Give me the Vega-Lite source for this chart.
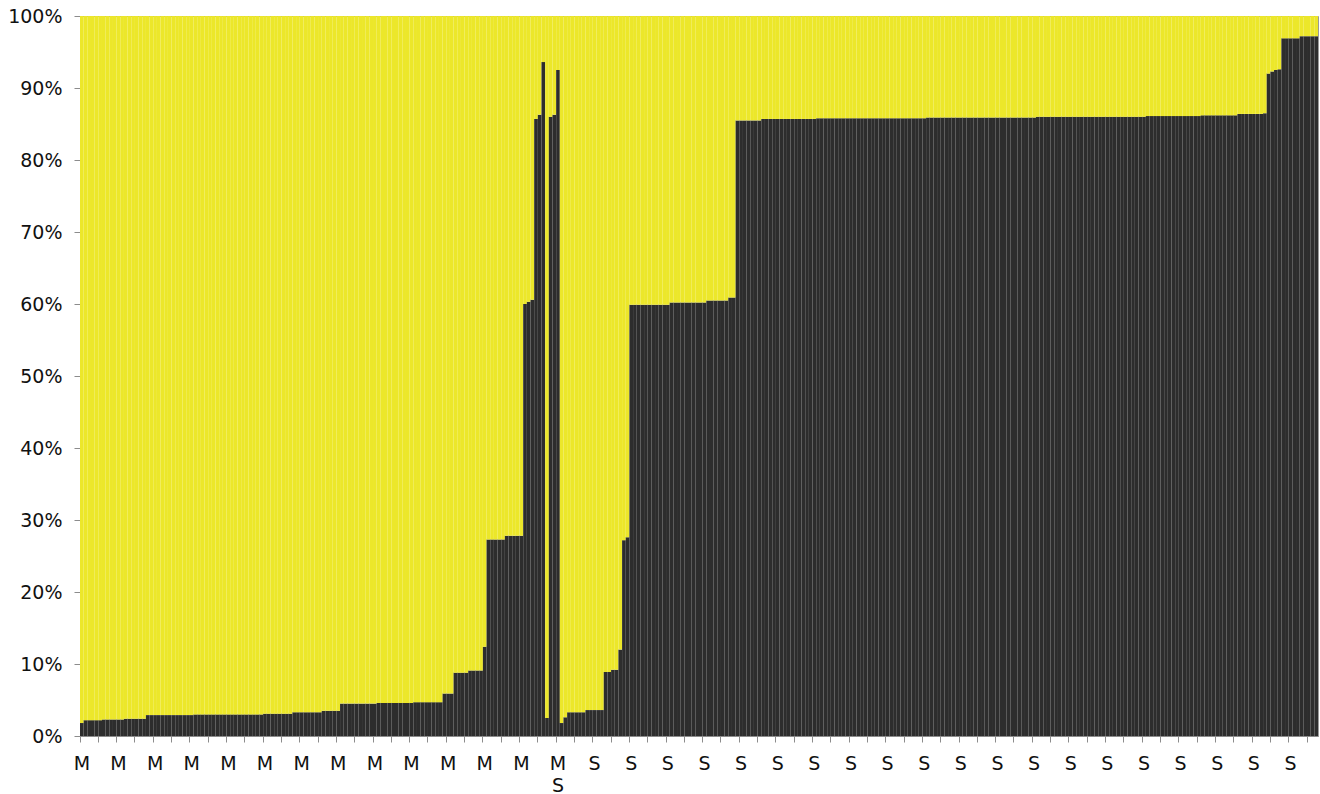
{
 "$schema": "https://vega.github.io/schema/vega-lite/v6.json",
 "width": 1238, "height": 720,
 "autosize": {"type": "none"},
 "padding": {"left": 80, "top": 16, "right": 2, "bottom": 58},
 "background": "white",
 "config": {"view": {"stroke": "#999999", "strokeWidth": 1}, "font": "DejaVu Sans"},
 "data": {"values": [
{"i":0,"dark":1.8,"light":98.2},{"i":1,"dark":2.2,"light":97.8},{"i":2,"dark":2.2,"light":97.8},{"i":3,"dark":2.2,"light":97.8},{"i":4,"dark":2.2,"light":97.8},{"i":5,"dark":2.2,"light":97.8},
{"i":6,"dark":2.3,"light":97.7},{"i":7,"dark":2.3,"light":97.7},{"i":8,"dark":2.3,"light":97.7},{"i":9,"dark":2.3,"light":97.7},{"i":10,"dark":2.3,"light":97.7},{"i":11,"dark":2.3,"light":97.7},
{"i":12,"dark":2.4,"light":97.6},{"i":13,"dark":2.4,"light":97.6},{"i":14,"dark":2.4,"light":97.6},{"i":15,"dark":2.4,"light":97.6},{"i":16,"dark":2.4,"light":97.6},{"i":17,"dark":2.4,"light":97.6},
{"i":18,"dark":2.9,"light":97.1},{"i":19,"dark":2.9,"light":97.1},{"i":20,"dark":2.9,"light":97.1},{"i":21,"dark":2.9,"light":97.1},{"i":22,"dark":2.9,"light":97.1},{"i":23,"dark":2.9,"light":97.1},{"i":24,"dark":2.9,"light":97.1},{"i":25,"dark":2.9,"light":97.1},{"i":26,"dark":2.9,"light":97.1},{"i":27,"dark":2.9,"light":97.1},{"i":28,"dark":2.9,"light":97.1},{"i":29,"dark":2.9,"light":97.1},{"i":30,"dark":2.9,"light":97.1},
{"i":31,"dark":3.0,"light":97.0},{"i":32,"dark":3.0,"light":97.0},{"i":33,"dark":3.0,"light":97.0},{"i":34,"dark":3.0,"light":97.0},{"i":35,"dark":3.0,"light":97.0},{"i":36,"dark":3.0,"light":97.0},{"i":37,"dark":3.0,"light":97.0},{"i":38,"dark":3.0,"light":97.0},{"i":39,"dark":3.0,"light":97.0},{"i":40,"dark":3.0,"light":97.0},{"i":41,"dark":3.0,"light":97.0},
{"i":42,"dark":3.0,"light":97.0},{"i":43,"dark":3.0,"light":97.0},{"i":44,"dark":3.0,"light":97.0},{"i":45,"dark":3.0,"light":97.0},{"i":46,"dark":3.0,"light":97.0},{"i":47,"dark":3.0,"light":97.0},{"i":48,"dark":3.0,"light":97.0},{"i":49,"dark":3.0,"light":97.0},
{"i":50,"dark":3.1,"light":96.9},{"i":51,"dark":3.1,"light":96.9},{"i":52,"dark":3.1,"light":96.9},{"i":53,"dark":3.1,"light":96.9},{"i":54,"dark":3.1,"light":96.9},{"i":55,"dark":3.1,"light":96.9},{"i":56,"dark":3.1,"light":96.9},{"i":57,"dark":3.1,"light":96.9},
{"i":58,"dark":3.3,"light":96.7},{"i":59,"dark":3.3,"light":96.7},{"i":60,"dark":3.3,"light":96.7},{"i":61,"dark":3.3,"light":96.7},{"i":62,"dark":3.3,"light":96.7},{"i":63,"dark":3.3,"light":96.7},{"i":64,"dark":3.3,"light":96.7},{"i":65,"dark":3.3,"light":96.7},
{"i":66,"dark":3.5,"light":96.5},{"i":67,"dark":3.5,"light":96.5},{"i":68,"dark":3.5,"light":96.5},{"i":69,"dark":3.5,"light":96.5},{"i":70,"dark":3.5,"light":96.5},
{"i":71,"dark":4.5,"light":95.5},{"i":72,"dark":4.5,"light":95.5},{"i":73,"dark":4.5,"light":95.5},{"i":74,"dark":4.5,"light":95.5},{"i":75,"dark":4.5,"light":95.5},{"i":76,"dark":4.5,"light":95.5},{"i":77,"dark":4.5,"light":95.5},{"i":78,"dark":4.5,"light":95.5},{"i":79,"dark":4.5,"light":95.5},{"i":80,"dark":4.5,"light":95.5},
{"i":81,"dark":4.6,"light":95.4},{"i":82,"dark":4.6,"light":95.4},{"i":83,"dark":4.6,"light":95.4},{"i":84,"dark":4.6,"light":95.4},{"i":85,"dark":4.6,"light":95.4},{"i":86,"dark":4.6,"light":95.4},{"i":87,"dark":4.6,"light":95.4},{"i":88,"dark":4.6,"light":95.4},{"i":89,"dark":4.6,"light":95.4},{"i":90,"dark":4.6,"light":95.4},
{"i":91,"dark":4.7,"light":95.3},{"i":92,"dark":4.7,"light":95.3},{"i":93,"dark":4.7,"light":95.3},{"i":94,"dark":4.7,"light":95.3},{"i":95,"dark":4.7,"light":95.3},{"i":96,"dark":4.7,"light":95.3},{"i":97,"dark":4.7,"light":95.3},{"i":98,"dark":4.7,"light":95.3},
{"i":99,"dark":5.9,"light":94.1},{"i":100,"dark":5.9,"light":94.1},{"i":101,"dark":5.9,"light":94.1},
{"i":102,"dark":8.8,"light":91.2},{"i":103,"dark":8.8,"light":91.2},{"i":104,"dark":8.8,"light":91.2},{"i":105,"dark":8.8,"light":91.2},
{"i":106,"dark":9.1,"light":90.9},{"i":107,"dark":9.1,"light":90.9},{"i":108,"dark":9.1,"light":90.9},{"i":109,"dark":9.1,"light":90.9},
{"i":110,"dark":12.4,"light":87.6},
{"i":111,"dark":27.3,"light":72.7},{"i":112,"dark":27.3,"light":72.7},{"i":113,"dark":27.3,"light":72.7},{"i":114,"dark":27.3,"light":72.7},{"i":115,"dark":27.3,"light":72.7},
{"i":116,"dark":27.8,"light":72.2},{"i":117,"dark":27.8,"light":72.2},{"i":118,"dark":27.8,"light":72.2},{"i":119,"dark":27.8,"light":72.2},{"i":120,"dark":27.8,"light":72.2},
{"i":121,"dark":60.0,"light":40.0},{"i":122,"dark":60.3,"light":39.7},{"i":123,"dark":60.6,"light":39.4},
{"i":124,"dark":85.7,"light":14.3},{"i":125,"dark":86.3,"light":13.7},{"i":126,"dark":93.6,"light":6.4},
{"i":127,"dark":2.5,"light":97.5},
{"i":128,"dark":86.0,"light":14.0},{"i":129,"dark":86.3,"light":13.7},{"i":130,"dark":92.5,"light":7.5},
{"i":131,"dark":1.8,"light":98.2},{"i":132,"dark":2.6,"light":97.4},
{"i":133,"dark":3.3,"light":96.7},{"i":134,"dark":3.3,"light":96.7},{"i":135,"dark":3.3,"light":96.7},{"i":136,"dark":3.3,"light":96.7},{"i":137,"dark":3.3,"light":96.7},
{"i":138,"dark":3.6,"light":96.4},{"i":139,"dark":3.6,"light":96.4},{"i":140,"dark":3.6,"light":96.4},{"i":141,"dark":3.6,"light":96.4},{"i":142,"dark":3.6,"light":96.4},
{"i":143,"dark":8.9,"light":91.1},{"i":144,"dark":8.9,"light":91.1},{"i":145,"dark":9.2,"light":90.8},{"i":146,"dark":9.2,"light":90.8},
{"i":147,"dark":12.0,"light":88.0},
{"i":148,"dark":27.2,"light":72.8},{"i":149,"dark":27.6,"light":72.4},
{"i":150,"dark":59.9,"light":40.1},{"i":151,"dark":59.9,"light":40.1},{"i":152,"dark":59.9,"light":40.1},{"i":153,"dark":59.9,"light":40.1},{"i":154,"dark":59.9,"light":40.1},{"i":155,"dark":59.9,"light":40.1},{"i":156,"dark":59.9,"light":40.1},{"i":157,"dark":59.9,"light":40.1},{"i":158,"dark":59.9,"light":40.1},{"i":159,"dark":59.9,"light":40.1},{"i":160,"dark":59.9,"light":40.1},
{"i":161,"dark":60.2,"light":39.8},{"i":162,"dark":60.2,"light":39.8},{"i":163,"dark":60.2,"light":39.8},{"i":164,"dark":60.2,"light":39.8},{"i":165,"dark":60.2,"light":39.8},{"i":166,"dark":60.2,"light":39.8},{"i":167,"dark":60.2,"light":39.8},{"i":168,"dark":60.2,"light":39.8},{"i":169,"dark":60.2,"light":39.8},{"i":170,"dark":60.2,"light":39.8},
{"i":171,"dark":60.5,"light":39.5},{"i":172,"dark":60.5,"light":39.5},{"i":173,"dark":60.5,"light":39.5},{"i":174,"dark":60.5,"light":39.5},{"i":175,"dark":60.5,"light":39.5},{"i":176,"dark":60.5,"light":39.5},
{"i":177,"dark":60.9,"light":39.1},{"i":178,"dark":60.9,"light":39.1},
{"i":179,"dark":85.5,"light":14.5},{"i":180,"dark":85.5,"light":14.5},{"i":181,"dark":85.5,"light":14.5},{"i":182,"dark":85.5,"light":14.5},{"i":183,"dark":85.5,"light":14.5},{"i":184,"dark":85.5,"light":14.5},{"i":185,"dark":85.5,"light":14.5},
{"i":186,"dark":85.7,"light":14.3},{"i":187,"dark":85.7,"light":14.3},{"i":188,"dark":85.7,"light":14.3},{"i":189,"dark":85.7,"light":14.3},{"i":190,"dark":85.7,"light":14.3},{"i":191,"dark":85.7,"light":14.3},{"i":192,"dark":85.7,"light":14.3},{"i":193,"dark":85.7,"light":14.3},{"i":194,"dark":85.7,"light":14.3},{"i":195,"dark":85.7,"light":14.3},{"i":196,"dark":85.7,"light":14.3},{"i":197,"dark":85.7,"light":14.3},{"i":198,"dark":85.7,"light":14.3},{"i":199,"dark":85.7,"light":14.3},{"i":200,"dark":85.7,"light":14.3},
{"i":201,"dark":85.8,"light":14.2},{"i":202,"dark":85.8,"light":14.2},{"i":203,"dark":85.8,"light":14.2},{"i":204,"dark":85.8,"light":14.2},{"i":205,"dark":85.8,"light":14.2},{"i":206,"dark":85.8,"light":14.2},{"i":207,"dark":85.8,"light":14.2},{"i":208,"dark":85.8,"light":14.2},{"i":209,"dark":85.8,"light":14.2},{"i":210,"dark":85.8,"light":14.2},
{"i":211,"dark":85.8,"light":14.2},{"i":212,"dark":85.8,"light":14.2},{"i":213,"dark":85.8,"light":14.2},{"i":214,"dark":85.8,"light":14.2},{"i":215,"dark":85.8,"light":14.2},{"i":216,"dark":85.8,"light":14.2},{"i":217,"dark":85.8,"light":14.2},{"i":218,"dark":85.8,"light":14.2},{"i":219,"dark":85.8,"light":14.2},{"i":220,"dark":85.8,"light":14.2},
{"i":221,"dark":85.8,"light":14.2},{"i":222,"dark":85.8,"light":14.2},{"i":223,"dark":85.8,"light":14.2},{"i":224,"dark":85.8,"light":14.2},{"i":225,"dark":85.8,"light":14.2},{"i":226,"dark":85.8,"light":14.2},{"i":227,"dark":85.8,"light":14.2},{"i":228,"dark":85.8,"light":14.2},{"i":229,"dark":85.8,"light":14.2},{"i":230,"dark":85.8,"light":14.2},
{"i":231,"dark":85.9,"light":14.1},{"i":232,"dark":85.9,"light":14.1},{"i":233,"dark":85.9,"light":14.1},{"i":234,"dark":85.9,"light":14.1},{"i":235,"dark":85.9,"light":14.1},{"i":236,"dark":85.9,"light":14.1},{"i":237,"dark":85.9,"light":14.1},{"i":238,"dark":85.9,"light":14.1},{"i":239,"dark":85.9,"light":14.1},{"i":240,"dark":85.9,"light":14.1},
{"i":241,"dark":85.9,"light":14.1},{"i":242,"dark":85.9,"light":14.1},{"i":243,"dark":85.9,"light":14.1},{"i":244,"dark":85.9,"light":14.1},{"i":245,"dark":85.9,"light":14.1},{"i":246,"dark":85.9,"light":14.1},{"i":247,"dark":85.9,"light":14.1},{"i":248,"dark":85.9,"light":14.1},{"i":249,"dark":85.9,"light":14.1},{"i":250,"dark":85.9,"light":14.1},
{"i":251,"dark":85.9,"light":14.1},{"i":252,"dark":85.9,"light":14.1},{"i":253,"dark":85.9,"light":14.1},{"i":254,"dark":85.9,"light":14.1},{"i":255,"dark":85.9,"light":14.1},{"i":256,"dark":85.9,"light":14.1},{"i":257,"dark":85.9,"light":14.1},{"i":258,"dark":85.9,"light":14.1},{"i":259,"dark":85.9,"light":14.1},{"i":260,"dark":85.9,"light":14.1},
{"i":261,"dark":86.0,"light":14.0},{"i":262,"dark":86.0,"light":14.0},{"i":263,"dark":86.0,"light":14.0},{"i":264,"dark":86.0,"light":14.0},{"i":265,"dark":86.0,"light":14.0},{"i":266,"dark":86.0,"light":14.0},{"i":267,"dark":86.0,"light":14.0},{"i":268,"dark":86.0,"light":14.0},{"i":269,"dark":86.0,"light":14.0},{"i":270,"dark":86.0,"light":14.0},
{"i":271,"dark":86.0,"light":14.0},{"i":272,"dark":86.0,"light":14.0},{"i":273,"dark":86.0,"light":14.0},{"i":274,"dark":86.0,"light":14.0},{"i":275,"dark":86.0,"light":14.0},{"i":276,"dark":86.0,"light":14.0},{"i":277,"dark":86.0,"light":14.0},{"i":278,"dark":86.0,"light":14.0},{"i":279,"dark":86.0,"light":14.0},{"i":280,"dark":86.0,"light":14.0},
{"i":281,"dark":86.0,"light":14.0},{"i":282,"dark":86.0,"light":14.0},{"i":283,"dark":86.0,"light":14.0},{"i":284,"dark":86.0,"light":14.0},{"i":285,"dark":86.0,"light":14.0},{"i":286,"dark":86.0,"light":14.0},{"i":287,"dark":86.0,"light":14.0},{"i":288,"dark":86.0,"light":14.0},{"i":289,"dark":86.0,"light":14.0},{"i":290,"dark":86.0,"light":14.0},
{"i":291,"dark":86.1,"light":13.9},{"i":292,"dark":86.1,"light":13.9},{"i":293,"dark":86.1,"light":13.9},{"i":294,"dark":86.1,"light":13.9},{"i":295,"dark":86.1,"light":13.9},{"i":296,"dark":86.1,"light":13.9},{"i":297,"dark":86.1,"light":13.9},{"i":298,"dark":86.1,"light":13.9},{"i":299,"dark":86.1,"light":13.9},{"i":300,"dark":86.1,"light":13.9},
{"i":301,"dark":86.1,"light":13.9},{"i":302,"dark":86.1,"light":13.9},{"i":303,"dark":86.1,"light":13.9},{"i":304,"dark":86.1,"light":13.9},{"i":305,"dark":86.1,"light":13.9},
{"i":306,"dark":86.2,"light":13.8},{"i":307,"dark":86.2,"light":13.8},{"i":308,"dark":86.2,"light":13.8},{"i":309,"dark":86.2,"light":13.8},{"i":310,"dark":86.2,"light":13.8},{"i":311,"dark":86.2,"light":13.8},{"i":312,"dark":86.2,"light":13.8},{"i":313,"dark":86.2,"light":13.8},{"i":314,"dark":86.2,"light":13.8},{"i":315,"dark":86.2,"light":13.8},
{"i":316,"dark":86.4,"light":13.6},{"i":317,"dark":86.4,"light":13.6},{"i":318,"dark":86.4,"light":13.6},{"i":319,"dark":86.4,"light":13.6},{"i":320,"dark":86.4,"light":13.6},{"i":321,"dark":86.4,"light":13.6},{"i":322,"dark":86.4,"light":13.6},{"i":323,"dark":86.5,"light":13.5},
{"i":324,"dark":92.0,"light":8.0},{"i":325,"dark":92.3,"light":7.7},{"i":326,"dark":92.5,"light":7.5},{"i":327,"dark":92.6,"light":7.4},
{"i":328,"dark":96.9,"light":3.1},{"i":329,"dark":96.9,"light":3.1},{"i":330,"dark":96.9,"light":3.1},{"i":331,"dark":96.9,"light":3.1},{"i":332,"dark":96.9,"light":3.1},
{"i":333,"dark":97.2,"light":2.8},{"i":334,"dark":97.2,"light":2.8},{"i":335,"dark":97.2,"light":2.8},{"i":336,"dark":97.2,"light":2.8},{"i":337,"dark":97.2,"light":2.8}
 ]},
 "transform": [{"fold": ["dark", "light"], "as": ["part", "pct"]}],
 "mark": {"type": "bar", "strokeWidth": 0},
 "encoding": {
  "x": {
   "field": "i", "type": "ordinal", "sort": "ascending",
   "scale": {"paddingInner": 0, "paddingOuter": 0},
   "axis": {
    "title": null,
    "values": [0,5,10,15,20,25,30,35,40,45,50,55,60,65,70,75,80,85,90,95,100,105,110,115,120,125,130,135,140,145,150,155,160,165,170,175,180,185,190,195,200,205,210,215,220,225,230,235,240,245,250,255,260,265,270,275,280,285,290,295,300,305,310,315,320,325,330,335],
    "bandPosition": 0,
    "labelExpr": "datum.value % 10 != 0 ? '' : (datum.value < 130 ? 'M' : (datum.value == 130 ? ['M', 'S'] : 'S'))",
    "labelAngle": 0,
    "labelOverlap": false,
    "labelFontSize": 19,
    "labelColor": "#111111",
    "labelPadding": 12,
    "labelLineHeight": 22,
    "labelBaseline": "top",
    "tickSize": 6,
    "tickColor": "#8c8c8c",
    "domainColor": "#8c8c8c",
    "grid": false
   }
  },
  "y": {
   "field": "pct", "type": "quantitative", "stack": "normalize",
   "scale": {"domain": [0, 1], "nice": false},
   "axis": {
    "title": null,
    "values": [0, 0.1, 0.2, 0.3, 0.4, 0.5, 0.6, 0.7, 0.8, 0.9, 1],
    "format": ".0%",
    "labelFontSize": 19,
    "labelColor": "#111111",
    "labelPadding": 12,
    "tickSize": 6,
    "tickColor": "#8c8c8c",
    "domainColor": "#8c8c8c",
    "grid": false
   }
  },
  "color": {
   "field": "part", "type": "nominal",
   "scale": {"domain": ["dark", "light"], "range": ["#2d2d2d", "#ece72a"]},
   "legend": null
  },
  "order": {"field": "part", "sort": "ascending"}
 }
}
